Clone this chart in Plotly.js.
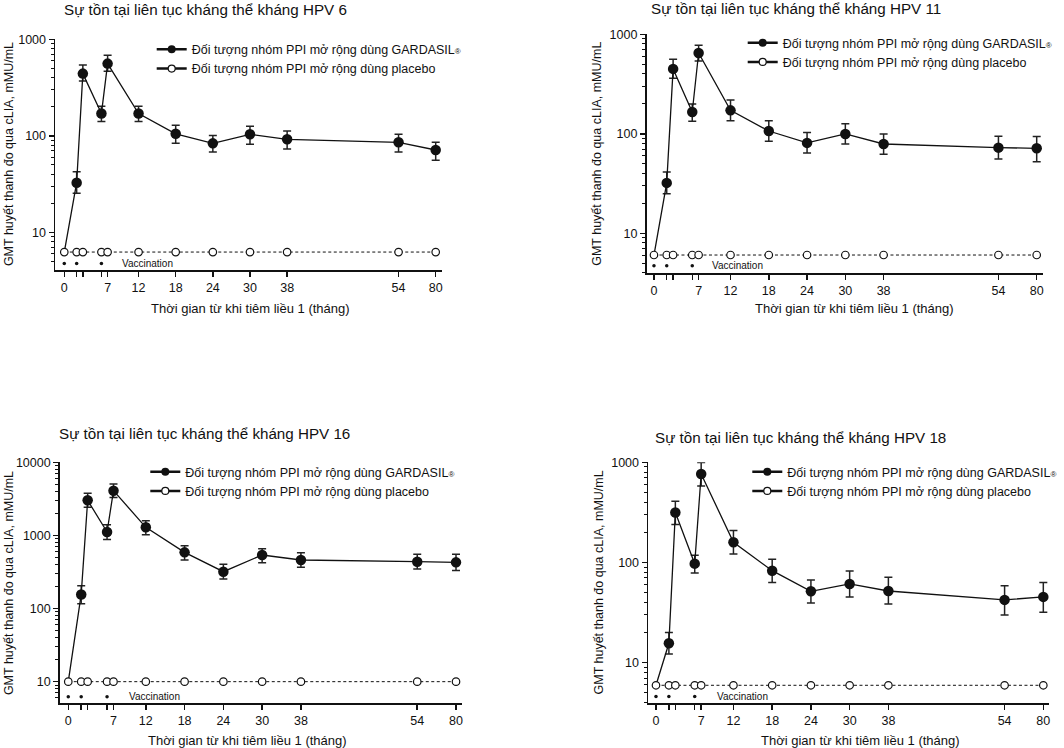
<!DOCTYPE html>
<html>
<head>
<meta charset="utf-8">
<script src="https://cdn.plot.ly/plotly-3.0.1.min.js"></script>
<style>html,body{margin:0;padding:0;background:#fff}#chart{width:1064px;height:748px}</style>
</head>
<body>
<div id="chart"></div>
<script>
// ---------- DATA ----------
const months = [0, 2, 3, 6, 7, 12, 18, 24, 30, 38, 54, 80];
const labelMonths = [0, 7, 12, 18, 24, 30, 38, 54, 80];
const tickLabels = ['0', '7', '12', '18', '24', '30', '38', '54', '80'];
const extraTickMonths = [2, 3, 6];
const vaccMonths = [0, 2, 6];
const seriesNames = ['Đối tượng nhóm PPI mở rộng dùng GARDASIL<span style="font-size:8px">®</span>', 'Đối tượng nhóm PPI mở rộng dùng placebo'];
const panelTitles = ['Sự tồn tại liên tục kháng thể kháng HPV 6', 'Sự tồn tại liên tục kháng thể kháng HPV 11',
                     'Sự tồn tại liên tục kháng thể kháng HPV 16', 'Sự tồn tại liên tục kháng thể kháng HPV 18'];
const yTitle = 'GMT huyết thanh đo qua cLIA, mMU/mL';
const xTitle = 'Thời gian từ khi tiêm liều 1 (tháng)';
const vaccLabel = 'Vaccination';

// HPV 6
const hpv6Gmt   = [6.25, 32.7, 441, 170, 560, 170, 105, 83.6, 103.7, 92, 85.7, 71.3];
const hpv6Upper = [null, 42.5, 542, 202, 683, 202, 128.5, 101, 125.5, 112, 103.7, 85.7];
const hpv6Lower = [null, 25.4, 370, 141, 466, 141, 83.6, 68, 81.7, 73, 68, 55.7];
const hpv6Placebo = [6.25, 6.25, 6.25, 6.25, 6.25, 6.25, 6.25, 6.25, 6.25, 6.25, 6.25, 6.25];
const hpv6Vacc = [4.77, 4.77, 4.77];

// HPV 11
const hpv11Gmt   = [6.05, 32.1, 449, 165.6, 649, 172, 106.7, 81, 99.6, 79, 72.6, 71.5];
const hpv11Upper = [null, 41.3, 561, 199.5, 775, 219, 135.6, 102.8, 126.5, 99.6, 94.4, 93.7];
const hpv11Lower = [null, 25, 361, 133.6, 540, 135.6, 84, 64.2, 79, 62.2, 55.8, 52.5];
const hpv11Placebo = [6.05, 6.05, 6.05, 6.05, 6.05, 6.05, 6.05, 6.05, 6.05, 6.05, 6.05, 6.05];
const hpv11Vacc = [4.73, 4.73, 4.73];

// HPV 16
const hpv16Gmt   = [10, 156, 3020, 1114, 4093, 1291, 587, 319, 540, 461, 437, 428];
const hpv16Upper = [null, 205.6, 3767, 1403, 5058, 1592, 724, 402, 659, 581, 551, 551];
const hpv16Lower = [null, 116.7, 2421, 876, 3288, 1024, 461, 254, 424, 366, 347, 330];
const hpv16Placebo = [10, 10, 10, 10, 10, 10, 10, 10, 10, 10, 10, 10];
const hpv16Vacc = [6.2, 6.2, 6.2];

// HPV 18
const hpv18Gmt   = [5.94, 15.6, 315, 97.3, 765, 159, 82.8, 51.5, 61, 51.9, 42.3, 45.3];
const hpv18Upper = [null, 19.95, 408, 118, 993, 208, 107.6, 66.9, 82.2, 71.1, 58.7, 63];
const hpv18Lower = [null, 12.2, 239, 78.5, 580, 121.6, 63, 39.4, 45.3, 38.5, 29.9, 31.8];
const hpv18Placebo = [5.94, 5.94, 5.94, 5.94, 5.94, 5.94, 5.94, 5.94, 5.94, 5.94, 5.94, 5.94];
const hpv18Vacc = [4.58, 4.58, 4.58];

// ---------- BROKEN X SCALE (month -> axis position) ----------
const scaleBreaks = [[0, 0], [30, 30], [38, 36], [54, 54], [80, 60]];
function pos(m) {
  for (let i = 1; i < scaleBreaks.length; i++) {
    const [m0, p0] = scaleBreaks[i - 1], [m1, p1] = scaleBreaks[i];
    if (m <= m1) return p0 + (m - m0) * (p1 - p0) / (m1 - m0);
  }
  return scaleBreaks[scaleBreaks.length - 1][1];
}

// ---------- LAYOUT GEOMETRY (pixels) ----------
const W = 1064, H = 748;
const FONT = 'Liberation Sans, Arial, Helvetica, sans-serif';
const INK = '#111';
const panels = [
  { gmt: hpv6Gmt, up: hpv6Upper, lo: hpv6Lower, pl: hpv6Placebo, vac: hpv6Vacc,
    px: [55.3, 441.7], py: [39.3, 270], xr: [-1.45, 60.97], yr: [0.61, 3],
    title: [61.7, 9.5], ytitle: [8.5, 154.6], xtitle: [250, 308.3], leg: [191.7, 46.7], vlab: 120 },
  { gmt: hpv11Gmt, up: hpv11Upper, lo: hpv11Lower, pl: hpv11Placebo, vac: hpv11Vacc,
    px: [646.7, 1042.7], py: [34.3, 273.3], xr: [-1.14, 60.94], yr: [0.598, 3],
    title: [649, 8.8], ytitle: [597, 153.8], xtitle: [854.7, 308.3], leg: [782.7, 40], vlab: 710 },
  { gmt: hpv16Gmt, up: hpv16Upper, lo: hpv16Lower, pl: hpv16Placebo, vac: hpv16Vacc,
    px: [60, 461.7], py: [462.3, 703.3], xr: [-1.28, 60.88], yr: [0.704, 4],
    title: [57.3, 433], ytitle: [8.3, 582.8], xtitle: [247, 740], leg: [185.3, 469], vlab: 127 },
  { gmt: hpv18Gmt, up: hpv18Upper, lo: hpv18Lower, pl: hpv18Placebo, vac: hpv18Vacc,
    px: [648.3, 1049], py: [462.3, 702.7], xr: [-1.19, 60.88], yr: [0.6, 3],
    title: [652.7, 437], ytitle: [598, 582.5], xtitle: [860.7, 740.7], leg: [787.3, 469], vlab: 715 }
];

const traces = [];
const layout = {
  width: W, height: H, margin: { l: 0, r: 0, t: 0, b: 0 },
  paper_bgcolor: '#fff', plot_bgcolor: '#fff', showlegend: true,
  font: { family: FONT, color: INK, size: 12.5 },
  annotations: []
};

panels.forEach((p, i) => {
  const n = i === 0 ? '' : String(i + 1);
  const xa = 'x' + n, ya = 'y' + n;
  const legName = 'legend' + n;
  const xs = months.map(pos);

  // GARDASIL series
  traces.push({
    type: 'scatter', mode: 'lines+markers', x: xs, y: p.gmt, xaxis: xa, yaxis: ya,
    showlegend: false, hoverinfo: 'skip',
    line: { color: INK, width: 1.3 },
    marker: { symbol: 'circle', color: INK, opacity: 1, size: months.map(m => m === 0 ? 0 : 10.5), line: { width: 0 } },
    error_y: {
      type: 'data', symmetric: false,
      array: p.up.map((u, k) => u == null ? NaN : u - p.gmt[k]),
      arrayminus: p.lo.map((l, k) => l == null ? NaN : p.gmt[k] - l),
      color: '#222', thickness: 1.5, width: 4
    }
  });
  // placebo series
  traces.push({
    type: 'scatter', mode: 'lines+markers', x: xs, y: p.pl, xaxis: xa, yaxis: ya,
    showlegend: false, hoverinfo: 'skip',
    line: { color: INK, width: 1, dash: '3px,2.5px' },
    marker: { symbol: 'circle', color: '#fff', opacity: 1, size: 7.5, line: { color: INK, width: 1.2 } }
  });
  // vaccination dots
  traces.push({
    type: 'scatter', mode: 'markers', x: vaccMonths.map(pos), y: p.vac, xaxis: xa, yaxis: ya,
    showlegend: false, hoverinfo: 'skip',
    marker: { symbol: 'circle', color: INK, size: 3.5 }
  });
  // legend entries (solid symbols as in the reference)
  traces.push({
    type: 'scatter', mode: 'lines+markers', x: [null], y: [null], xaxis: xa, yaxis: ya,
    name: seriesNames[0], legend: legName, showlegend: true,
    line: { color: INK, width: 2.5 }, marker: { color: INK, size: 8 }
  });
  traces.push({
    type: 'scatter', mode: 'lines+markers', x: [null], y: [null], xaxis: xa, yaxis: ya,
    name: seriesNames[1], legend: legName, showlegend: true,
    line: { color: INK, width: 2.5 }, marker: { color: '#fff', size: 7, line: { color: INK, width: 1.2 } }
  });

  layout['xaxis' + n] = {
    domain: [p.px[0] / W, p.px[1] / W], anchor: ya, range: p.xr,
    showgrid: false, zeroline: false, showline: true, linecolor: INK, linewidth: 1.8,
    ticks: 'outside', ticklen: 5, tickwidth: 1.5, tickcolor: INK,
    tickmode: 'array', tickvals: labelMonths.map(pos), ticktext: tickLabels,
    minor: { tickmode: 'array', tickvals: extraTickMonths.map(pos), ticks: 'outside', ticklen: 5, tickwidth: 1.5, tickcolor: INK, showgrid: false },
    tickfont: { size: 12.5, family: FONT, color: INK }, fixedrange: true
  };
  layout['yaxis' + n] = {
    domain: [1 - p.py[1] / H, 1 - p.py[0] / H], anchor: xa, type: 'log', range: p.yr,
    showgrid: false, zeroline: false, showline: true, linecolor: INK, linewidth: 1.8,
    ticks: 'outside', ticklen: 5, tickwidth: 1.5, tickcolor: INK, dtick: 1,
    tickformat: 'd', exponentformat: 'none',
    tickfont: { size: 12.5, family: FONT, color: INK },
    minor: { ticks: 'outside', ticklen: 3, tickwidth: 1, tickcolor: INK, dtick: 'D1', showgrid: false },
    fixedrange: true
  };
  layout[legName] = {
    x: (p.leg[0] - 40) / W, xanchor: 'left', y: 1 - (p.leg[1] - 12) / H, yanchor: 'top',
    bgcolor: 'rgba(0,0,0,0)', borderwidth: 0, tracegroupgap: 0,
    font: { size: 12.5, family: FONT, color: INK }
  };

  layout.annotations.push(
    { xref: 'paper', yref: 'paper', x: p.title[0] / W, y: 1 - p.title[1] / H, xanchor: 'left', yanchor: 'middle',
      text: panelTitles[i], showarrow: false, font: { size: 15.2, family: FONT, color: INK } },
    { xref: 'paper', yref: 'paper', x: p.ytitle[0] / W, y: 1 - p.ytitle[1] / H, xanchor: 'center', yanchor: 'middle',
      text: yTitle, textangle: -90, showarrow: false, font: { size: 12.5, family: FONT, color: INK } },
    { xref: 'paper', yref: 'paper', x: p.xtitle[0] / W, y: 1 - p.xtitle[1] / H, xanchor: 'center', yanchor: 'middle',
      text: xTitle, showarrow: false, font: { size: 13, family: FONT, color: INK } },
    { xref: 'paper', yref: ya, x: p.vlab / W, y: Math.log10(p.vac[0]), xanchor: 'left', yanchor: 'middle',
      text: vaccLabel, showarrow: false, font: { size: 10, family: FONT, color: INK } }
  );
});

Plotly.newPlot('chart', traces, layout, { staticPlot: true, displayModeBar: false });
</script>
</body>
</html>
